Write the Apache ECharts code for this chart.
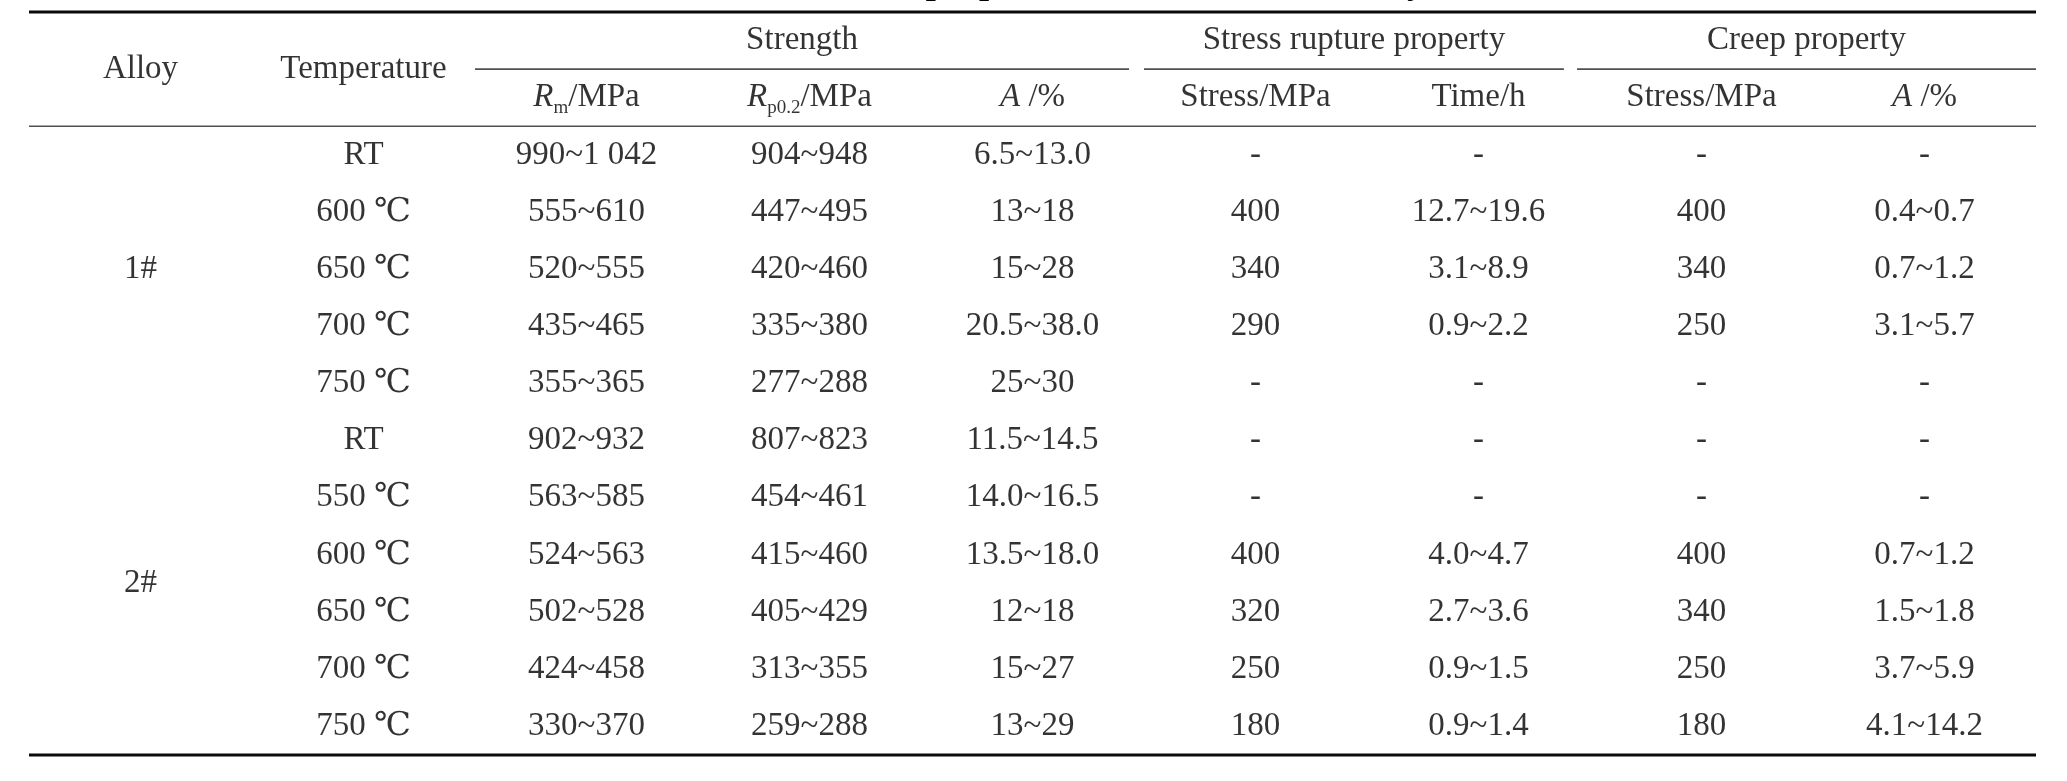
<!DOCTYPE html>
<html>
<head>
<meta charset="utf-8">
<script src="https://cdn.jsdelivr.net/npm/echarts@6/dist/echarts.min.js"></script>
<style>
html, body { margin: 0; padding: 0; background: #fff; }
#chart { width: 2067px; height: 781px; }
</style>
</head>
<body>
<div id="chart"></div>
<script>
// 表格数据 (每行一个温度)
var alloys = ['1#', '2#'];
var alloyRowCount = [5, 6];
var temperatures = ['RT', '600 ℃', '650 ℃', '700 ℃', '750 ℃', 'RT', '550 ℃', '600 ℃', '650 ℃', '700 ℃', '750 ℃'];
var tensileRm = ['990~1 042', '555~610', '520~555', '435~465', '355~365', '902~932', '563~585', '524~563', '502~528', '424~458', '330~370'];
var yieldRp = ['904~948', '447~495', '420~460', '335~380', '277~288', '807~823', '454~461', '415~460', '405~429', '313~355', '259~288'];
var elongation = ['6.5~13.0', '13~18', '15~28', '20.5~38.0', '25~30', '11.5~14.5', '14.0~16.5', '13.5~18.0', '12~18', '15~27', '13~29'];
var ruptureStress = ['-', '400', '340', '290', '-', '-', '-', '400', '320', '250', '180'];
var ruptureTime = ['-', '12.7~19.6', '3.1~8.9', '0.9~2.2', '-', '-', '-', '4.0~4.7', '2.7~3.6', '0.9~1.5', '0.9~1.4'];
var creepStress = ['-', '400', '340', '250', '-', '-', '-', '400', '340', '250', '180'];
var creepElong = ['-', '0.4~0.7', '0.7~1.2', '3.1~5.7', '-', '-', '-', '0.7~1.2', '1.5~1.8', '3.7~5.9', '4.1~14.2'];

// 表头
var mergedHeaders = ['Alloy', 'Temperature'];
var groupHeaders = ['Strength', 'Stress rupture property', 'Creep property'];
var groupSpans = [[2, 5], [5, 7], [7, 9]];   // 列范围
var subHeaders = ['{i|R}{sub|m}/MPa', '{i|R}{sub|p0.2}/MPa', '{i|A} /%', 'Stress/MPa', 'Time/h', 'Stress/MPa', '{i|A} /%'];
var titleText = 'Table 2  Mechanical properties of 1# and 2# test alloy';

var FONT = "'Liberation Serif', 'Times New Roman', 'DejaVu Serif', serif";
var HEAD_ROWS = 2;
// 分组线在内侧边界处的缩进 (列单位): [左端, 右端]
var groupTrim = [[0, 0.067], [0, 0.117], [-0.058, 0]];

var dataCols = [temperatures, tensileRm, yieldRp, elongation, ruptureStress, ruptureTime, creepStress, creepElong];
var nCols = dataCols.length + 1;
var nRows = HEAD_ROWS + temperatures.length;

// 单元格文字 -> [x, y] 为列/行坐标
var cells = [];
mergedHeaders.forEach(function (t, i) {
    cells.push({ value: [i + 0.5, 1], text: t });
});
groupHeaders.forEach(function (t, i) {
    var a = groupSpans[i][0] + groupTrim[i][0], b = groupSpans[i][1] - groupTrim[i][1];
    cells.push({ value: [(a + b) / 2, 0.5], text: t });
});
subHeaders.forEach(function (t, i) {
    cells.push({ value: [i + 2.5, 1.5], text: t });
});
var start = HEAD_ROWS;
alloys.forEach(function (t, i) {
    cells.push({ value: [0.5, start + alloyRowCount[i] / 2], text: t });
    start += alloyRowCount[i];
});
dataCols.forEach(function (col, c) {
    col.forEach(function (t, r) {
        cells.push({ value: [c + 1.5, HEAD_ROWS + r + 0.5], text: t });
    });
});

// 表格线: [x1, x2, y, 粗细类型]
var rules = [[0, nCols, 0, 1], [0, nCols, HEAD_ROWS, 0], [0, nCols, nRows, 1]];
groupSpans.forEach(function (s, i) {
    rules.push([s[0] + groupTrim[i][0], s[1] - groupTrim[i][1], 1, 0]);
});

var myChart = echarts.init(document.getElementById('chart'));
var option = {
    animation: false,
    backgroundColor: '#fff',
    graphic: [{
        type: 'text',
        x: 1017,
        y: 2,
        silent: true,
        style: {
            text: titleText,
            font: 'bold 36px ' + FONT,
            fill: '#000',
            align: 'center',
            verticalAlign: 'bottom'
        }
    }],
    grid: { left: 29, right: 31, top: 12, bottom: 26 },
    xAxis: { type: 'value', min: 0, max: nCols, show: false },
    yAxis: { type: 'value', min: 0, max: nRows, inverse: true, show: false },
    series: [{
        type: 'custom',
        silent: true,
        data: rules,
        renderItem: function (params, api) {
            var y = api.value(2), thick = api.value(3);
            var p1 = api.coord([api.value(0), y]);
            var p2 = api.coord([api.value(1), y]);
            return {
                type: 'line',
                shape: { x1: p1[0], y1: p1[1], x2: p2[0], y2: p2[1] },
                style: { stroke: thick ? '#0a0a0a' : '#505050', lineWidth: thick ? 3 : 1.6 }
            };
        }
    }, {
        type: 'scatter',
        silent: true,
        symbolSize: 0,
        data: cells,
        label: {
            show: true,
            position: 'inside',
            formatter: function (p) { return p.data.text; },
            color: '#000',
            fontFamily: FONT,
            fontSize: 33,
            lineHeight: 40,
            rich: {
                i: { fontFamily: FONT, fontSize: 33, fontStyle: 'italic', color: '#000', lineHeight: 40 },
                sub: { fontFamily: FONT, fontSize: 19, color: '#000', verticalAlign: 'bottom', lineHeight: 22 }
            }
        }
    }]
};
myChart.setOption(option);
</script>
</body>
</html>
